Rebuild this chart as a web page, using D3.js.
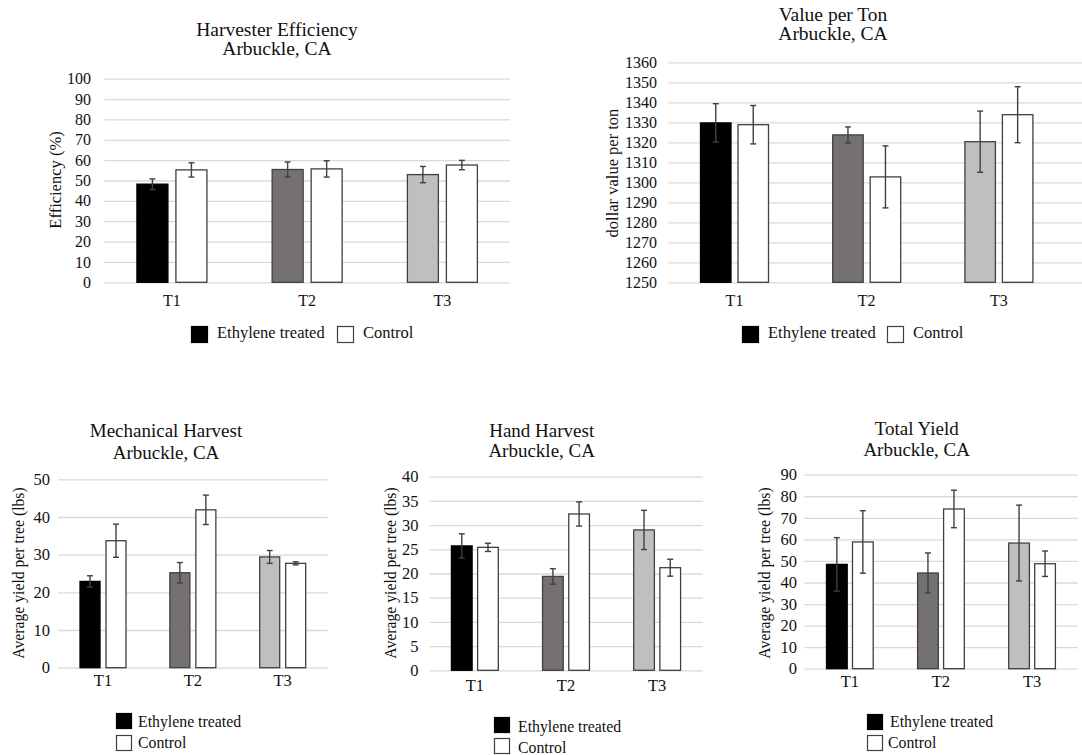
<!DOCTYPE html>
<html>
<head>
<meta charset="utf-8">
<script src="https://cdn.jsdelivr.net/npm/d3@7"></script>
<style>
  html, body { margin: 0; padding: 0; background: #fff; }
  svg { display: block; }
  svg text { font-family: "Liberation Serif", "Times New Roman", serif !important; }
</style>
</head>
<body>
<svg id="chart" width="1082" height="755"></svg>
<script>
// Treatment groups shared by every panel
const categories = ["T1", "T2", "T3"];
const seriesNames = ["Ethylene treated", "Control"];
const ethyleneFills = ["#000000", "#767171", "#bfbfbf"];

// Harvester efficiency (%)
const efficiencyEthylene = [48.2, 55.4, 52.9];
const efficiencyEthyleneErr = [2.6, 3.7, 4.0];
const efficiencyControl = [55.2, 55.7, 57.6];
const efficiencyControlErr = [3.5, 4.0, 2.3];
const efficiencyTicks = [0, 10, 20, 30, 40, 50, 60, 70, 80, 90, 100];

// Value per ton (dollars)
const valueEthylene = [1329.7, 1323.7, 1320.3];
const valueEthyleneErr = [9.6, 4.0, 15.3];
const valueControl = [1328.8, 1302.7, 1333.8];
const valueControlErr = [9.6, 15.5, 14.0];
const valueTicks = [1250, 1260, 1270, 1280, 1290, 1300, 1310, 1320, 1330, 1340, 1350, 1360];

// Mechanical harvest, average yield per tree (lbs)
const mechEthylene = [22.9, 25.2, 29.4];
const mechEthyleneErr = [1.5, 2.7, 1.7];
const mechControl = [33.7, 41.9, 27.7];
const mechControlErr = [4.4, 3.9, 0.4];
const mechTicks = [0, 10, 20, 30, 40, 50];

// Hand harvest, average yield per tree (lbs)
const handEthylene = [25.7, 19.4, 29.0];
const handEthyleneErr = [2.5, 1.6, 4.05];
const handControl = [25.4, 32.3, 21.2];
const handControlErr = [0.85, 2.5, 1.75];
const handTicks = [0, 5, 10, 15, 20, 25, 30, 35, 40];

// Total yield per tree (lbs)
const totalEthylene = [48.4, 44.4, 58.3];
const totalEthyleneErr = [12.4, 9.3, 17.6];
const totalControl = [58.8, 74.1, 48.7];
const totalControlErr = [14.5, 8.7, 5.9];
const totalTicks = [0, 10, 20, 30, 40, 50, 60, 70, 80, 90];

const svg = d3.select("#chart");
const TEXT = "#111111";
const EDGE = "#404040";
const GRID = "#d9d9d9";
const SERIF = "'Liberation Serif', 'Times New Roman', serif";

function drawPanel(p) {
  const g = svg.append("g").style("font-family", SERIF);
  const yMin = p.ticks[0], yMax = p.ticks[p.ticks.length - 1];
  const x = d3.scaleBand().domain(categories).range([p.left, p.right]).padding(0);
  const y = d3.scaleLinear().domain([yMin, yMax]).range([p.bottom, p.top]);

  // Title (two lines)
  p.title.forEach((line, i) => {
    g.append("text")
      .attr("x", p.titleX).attr("y", p.titleY[i])
      .attr("text-anchor", "middle")
      .style("font-size", p.titleSize + "px").attr("fill", TEXT)
      .text(line);
  });

  // Gridlines and y tick labels
  const yAxis = g.append("g")
    .attr("transform", `translate(${p.left},0)`)
    .call(d3.axisLeft(y).tickValues(p.ticks)
      .tickSize(-(p.gridRight - p.left))
      .tickPadding(p.left - p.tickRight)
      .tickFormat(d3.format("d")))
    .attr("font-family", null).attr("font-size", null);
  yAxis.select(".domain").remove();
  yAxis.selectAll(".tick line").attr("stroke", GRID).attr("stroke-width", 1.3);
  yAxis.selectAll(".tick text")
    .style("font-family", SERIF)
    .style("font-size", p.tickSize + "px").attr("fill", TEXT);

  // Category labels
  const xAxis = g.append("g")
    .attr("transform", `translate(0,${p.bottom})`)
    .call(d3.axisBottom(x).tickSize(0).tickPadding(0))
    .attr("font-family", null).attr("font-size", null);
  xAxis.select(".domain").remove();
  xAxis.selectAll(".tick text")
    .style("font-family", SERIF)
    .style("font-size", p.tickSize + "px").attr("fill", TEXT)
    .attr("dy", null)
    .attr("y", p.xLabelY - p.bottom);

  // Y axis title
  g.append("text")
    .attr("transform", `translate(${p.yTitleX},${p.yTitleY}) rotate(-90)`)
    .attr("text-anchor", "middle")
    .attr("dominant-baseline", "central")
    .style("font-size", p.yTitleSize + "px").attr("fill", TEXT)
    .text(p.yTitle);

  // Bars and error bars
  const rows = categories.map((c, i) => [
    { cat: c, v: p.eth[i], e: p.ethErr[i], fill: ethyleneFills[i], side: 0 },
    { cat: c, v: p.ctl[i], e: p.ctlErr[i], fill: "#ffffff", side: 1 }
  ]).flat();
  const barX = d => {
    const c = x(d.cat) + x.bandwidth() / 2;
    return d.side === 0 ? c - p.gap / 2 - p.barW : c + p.gap / 2;
  };
  g.selectAll("rect.bar").data(rows).join("rect")
    .attr("class", "bar")
    .attr("x", barX)
    .attr("y", d => y(d.v))
    .attr("width", p.barW)
    .attr("height", d => y(yMin) - y(d.v))
    .attr("fill", d => d.fill)
    .attr("stroke", d => d.fill === "#000000" ? "#000" : EDGE)
    .attr("stroke-width", 1.3);

  const cap = 3;
  const eb = g.selectAll("g.err").data(rows).join("g").attr("class", "err")
    .attr("stroke", EDGE).attr("stroke-width", 1.4);
  eb.append("line")
    .attr("x1", d => barX(d) + p.barW / 2).attr("x2", d => barX(d) + p.barW / 2)
    .attr("y1", d => y(d.v + d.e)).attr("y2", d => y(d.v - d.e));
  eb.append("line")
    .attr("x1", d => barX(d) + p.barW / 2 - cap).attr("x2", d => barX(d) + p.barW / 2 + cap)
    .attr("y1", d => y(d.v + d.e)).attr("y2", d => y(d.v + d.e));
  eb.append("line")
    .attr("x1", d => barX(d) + p.barW / 2 - cap).attr("x2", d => barX(d) + p.barW / 2 + cap)
    .attr("y1", d => y(d.v - d.e)).attr("y2", d => y(d.v - d.e));

  // Legend
  p.legend.forEach((item, i) => {
    g.append("rect")
      .attr("x", item.sx + 0.5).attr("y", item.sy + 0.5)
      .attr("width", p.sq).attr("height", p.sq)
      .attr("fill", i === 0 ? "#000" : "#fff")
      .attr("stroke", i === 0 ? "#000" : EDGE).attr("stroke-width", 1.2);
    g.append("text")
      .attr("x", item.tx).attr("y", item.ty)
      .style("font-size", p.legendSize + "px").attr("fill", TEXT)
      .text(seriesNames[i]);
  });
}

drawPanel({
  title: ["Harvester Efficiency", "Arbuckle, CA"], titleX: 277, titleY: [36, 55], titleSize: 19.5,
  left: 104.3, right: 510, gridRight: 510, top: 78.7, bottom: 282.3, tickRight: 91,
  ticks: efficiencyTicks, tickSize: 16, xLabelY: 306,
  yTitle: "Efficiency (%)", yTitleX: 55, yTitleY: 180, yTitleSize: 16.5,
  eth: efficiencyEthylene, ethErr: efficiencyEthyleneErr,
  ctl: efficiencyControl, ctlErr: efficiencyControlErr,
  barW: 31, gap: 8, sq: 16, legendSize: 16.5,
  legend: [{ sx: 191, sy: 326, tx: 217, ty: 338 }, { sx: 337, sy: 326, tx: 363, ty: 338 }]
});

drawPanel({
  title: ["Value per Ton", "Arbuckle, CA"], titleX: 833, titleY: [20.7, 40], titleSize: 19.5,
  left: 668.4, right: 1065, gridRight: 1082, top: 62.3, bottom: 282.3, tickRight: 657,
  ticks: valueTicks, tickSize: 16, xLabelY: 306,
  yTitle: "dollar value per ton", yTitleX: 612.7, yTitleY: 173, yTitleSize: 16.5,
  eth: valueEthylene, ethErr: valueEthyleneErr,
  ctl: valueControl, ctlErr: valueControlErr,
  barW: 30.5, gap: 7, sq: 16, legendSize: 16.5,
  legend: [{ sx: 742, sy: 326, tx: 768, ty: 338 }, { sx: 887, sy: 326, tx: 913, ty: 338 }]
});

drawPanel({
  title: ["Mechanical Harvest", "Arbuckle, CA"], titleX: 166, titleY: [437, 459], titleSize: 19,
  left: 58.1, right: 327.6, gridRight: 327.6, top: 479.3, bottom: 667.7, tickRight: 50,
  ticks: mechTicks, tickSize: 16.5, xLabelY: 686,
  yTitle: "Average yield per tree (lbs)", yTitleX: 18.3, yTitleY: 573, yTitleSize: 15.7,
  eth: mechEthylene, ethErr: mechEthyleneErr,
  ctl: mechControl, ctlErr: mechControlErr,
  barW: 20, gap: 6, sq: 15, legendSize: 15.8,
  legend: [{ sx: 116, sy: 713, tx: 138, ty: 727 }, { sx: 116, sy: 735, tx: 138, ty: 748 }]
});

drawPanel({
  title: ["Hand Harvest", "Arbuckle, CA"], titleX: 541.7, titleY: [436.7, 456.7], titleSize: 19,
  left: 429.3, right: 702.7, gridRight: 702.7, top: 476.7, bottom: 670.3, tickRight: 418.5,
  ticks: handTicks, tickSize: 16.5, xLabelY: 691,
  yTitle: "Average yield per tree (lbs)", yTitleX: 390, yTitleY: 573, yTitleSize: 15.7,
  eth: handEthylene, ethErr: handEthyleneErr,
  ctl: handControl, ctlErr: handControlErr,
  barW: 20.7, gap: 5.5, sq: 15, legendSize: 15.8,
  legend: [{ sx: 494, sy: 717, tx: 518, ty: 731.5 }, { sx: 494, sy: 738, tx: 518, ty: 752.5 }]
});

drawPanel({
  title: ["Total Yield", "Arbuckle, CA"], titleX: 916.7, titleY: [435, 456], titleSize: 19,
  left: 804.3, right: 1077.6, gridRight: 1077.6, top: 474.7, bottom: 668.7, tickRight: 797,
  ticks: totalTicks, tickSize: 16.5, xLabelY: 686.7,
  yTitle: "Average yield per tree (lbs)", yTitleX: 764.3, yTitleY: 573, yTitleSize: 15.7,
  eth: totalEthylene, ethErr: totalEthyleneErr,
  ctl: totalControl, ctlErr: totalControlErr,
  barW: 20.7, gap: 5.3, sq: 15, legendSize: 15.8,
  legend: [{ sx: 867, sy: 714, tx: 890, ty: 727 }, { sx: 867, sy: 735, tx: 888, ty: 748 }]
});
</script>
</body>
</html>
